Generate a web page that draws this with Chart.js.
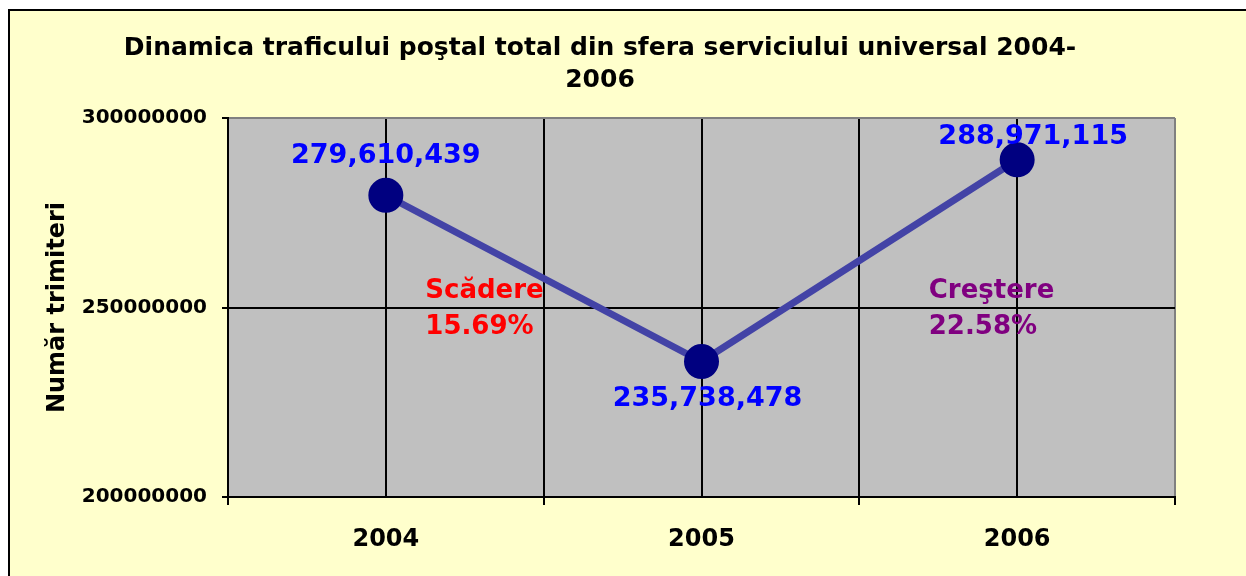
<!DOCTYPE html>
<html>
<head>
<meta charset="utf-8">
<script src="https://cdn.jsdelivr.net/npm/chart.js@4.4.0/dist/chart.umd.min.js"></script>
<style>
  html, body { margin: 0; padding: 0; background: #fff; }
  #wrap { width: 1246px; height: 576px; }
</style>
</head>
<body>
<div id="wrap"><canvas id="chart" width="1246" height="576"></canvas></div>
<script>
const years = ['2004', '2005', '2006'];
const traffic = [279610439, 235738478, 288971115];
const trafficLabels = ['279,610,439', '235,738,478', '288,971,115'];
const yTicks = [200000000, 250000000, 300000000];
const noteLines = [['Scădere', '15.69%'], ['Creştere', '22.58%']];

const FONT = '"DejaVu Sans", Verdana, sans-serif';

// grid every half category: category centres plus the boundaries between them
const xTickPos = [];
for (let i = 0; i <= years.length * 2; i++) xTickPos.push(0.5 + i * 0.5);

const points = traffic.map((v, i) => ({ x: i + 1, y: v }));

const framePlugin = {
  id: 'frame',
  beforeDraw(chart) {
    const { ctx, chartArea: a } = chart;
    ctx.save();
    ctx.fillStyle = '#ffffff';
    ctx.fillRect(0, 0, chart.width, chart.height);
    ctx.fillStyle = '#ffffcc';
    ctx.fillRect(9, 10, chart.width, chart.height);
    ctx.strokeStyle = '#000';
    ctx.lineWidth = 2;
    ctx.beginPath();
    ctx.moveTo(9, chart.height + 5);
    ctx.lineTo(9, 10);
    ctx.lineTo(chart.width + 5, 10);
    ctx.stroke();
    ctx.fillStyle = '#c0c0c0';
    ctx.fillRect(a.left, a.top, a.width, a.height);
    ctx.restore();
  }
};

// value labels next to each point
const valueLabels = {
  id: 'valueLabels',
  afterDatasetsDraw(chart, args, opts) {
    const { ctx } = chart;
    const meta = chart.getDatasetMeta(0);
    ctx.save();
    ctx.font = 'bold 27px ' + FONT;
    ctx.fillStyle = '#0000ff';
    ctx.textAlign = 'center';
    ctx.textBaseline = 'middle';
    meta.data.forEach((pt, i) => {
      const off = opts.offsets[i];
      ctx.fillText(trafficLabels[i], pt.x + off[0], pt.y + off[1]);
    });
    ctx.restore();
  }
};

// "Scădere" / "Creştere" notes, anchored in data coordinates
const trendNotes = {
  id: 'trendNotes',
  afterDatasetsDraw(chart, args, opts) {
    const { ctx, scales: { x, y } } = chart;
    ctx.save();
    ctx.font = 'bold 26px ' + FONT;
    ctx.textAlign = 'left';
    ctx.textBaseline = 'middle';
    noteLines.forEach((lines, i) => {
      const at = opts.anchors[i];
      ctx.fillStyle = opts.colors[i];
      const px = x.getPixelForValue(at[0]);
      const py = y.getPixelForValue(at[1]);
      lines.forEach((t, j) => ctx.fillText(t, px, py + j * 36));
    });
    ctx.restore();
  }
};

new Chart(document.getElementById('chart'), {
  type: 'line',
  data: {
    datasets: [{
      data: points,
      borderColor: '#4343a6',
      borderWidth: 7,
      pointBackgroundColor: '#000080',
      pointBorderColor: '#000080',
      pointRadius: 14,
      pointHoverRadius: 14,
      tension: 0,
      fill: false
    }]
  },
  options: {
    responsive: false,
    animation: false,
    layout: { padding: { left: 25, right: 71, top: 0, bottom: 0 } },
    scales: {
      x: {
        type: 'linear',
        min: 0.5,
        max: 3.5,
        afterBuildTicks: axis => { axis.ticks = xTickPos.map(v => ({ value: v })); },
        afterFit: axis => { axis.height = 79; },
        grid: {
          color: c => (c.tick && c.tick.value === 3.5 ? '#808080' : '#000'),
          lineWidth: 2,
          tickLength: 8,
          tickWidth: 2,
          tickColor: c => (c.tick && Number.isInteger(c.tick.value) ? 'rgba(0,0,0,0)' : '#000')
        },
        border: { color: '#000', width: 2 },
        ticks: {
          autoSkip: false,
          maxRotation: 0,
          padding: 20,
          color: '#000',
          font: { family: FONT, size: 24, weight: 'bold' },
          callback: v => (Number.isInteger(v) ? years[v - 1] : '')
        }
      },
      y: {
        min: 200000000,
        max: 300000000,
        afterBuildTicks: axis => { axis.ticks = yTicks.map(v => ({ value: v })); },
        afterFit: axis => { axis.width = 203; },
        grid: {
          color: c => (c.tick && c.tick.value === 300000000 ? '#808080' : '#000'),
          lineWidth: 2,
          tickLength: 6,
          tickWidth: 2,
          tickColor: '#000'
        },
        border: { color: '#000', width: 2 },
        ticks: {
          padding: 15,
          color: '#000',
          font: { family: FONT, size: 20, weight: 'bold' },
          callback: v => String(v)
        },
        title: {
          display: true,
          text: 'Număr trimiteri',
          color: '#000',
          padding: { top: 18, bottom: 0 },
          font: { family: FONT, size: 24, weight: 'bold' }
        }
      }
    },
    plugins: {
      legend: { display: false },
      tooltip: { enabled: false },
      title: {
        display: true,
        text: ['Dinamica traficului poştal total din sfera serviciului universal 2004-', '2006'],
        color: '#000',
        padding: { top: 32, bottom: 22 },
        font: { family: FONT, size: 25, weight: 'bold', lineHeight: 1.28 }
      },
      valueLabels: { offsets: [[0, -39], [6, 37], [16, -23]] },
      trendNotes: {
        anchors: [[1.125, 254200000], [2.72, 254200000]],
        colors: ['#ff0000', '#800080']
      }
    }
  },
  plugins: [framePlugin, valueLabels, trendNotes]
});
</script>
</body>
</html>
